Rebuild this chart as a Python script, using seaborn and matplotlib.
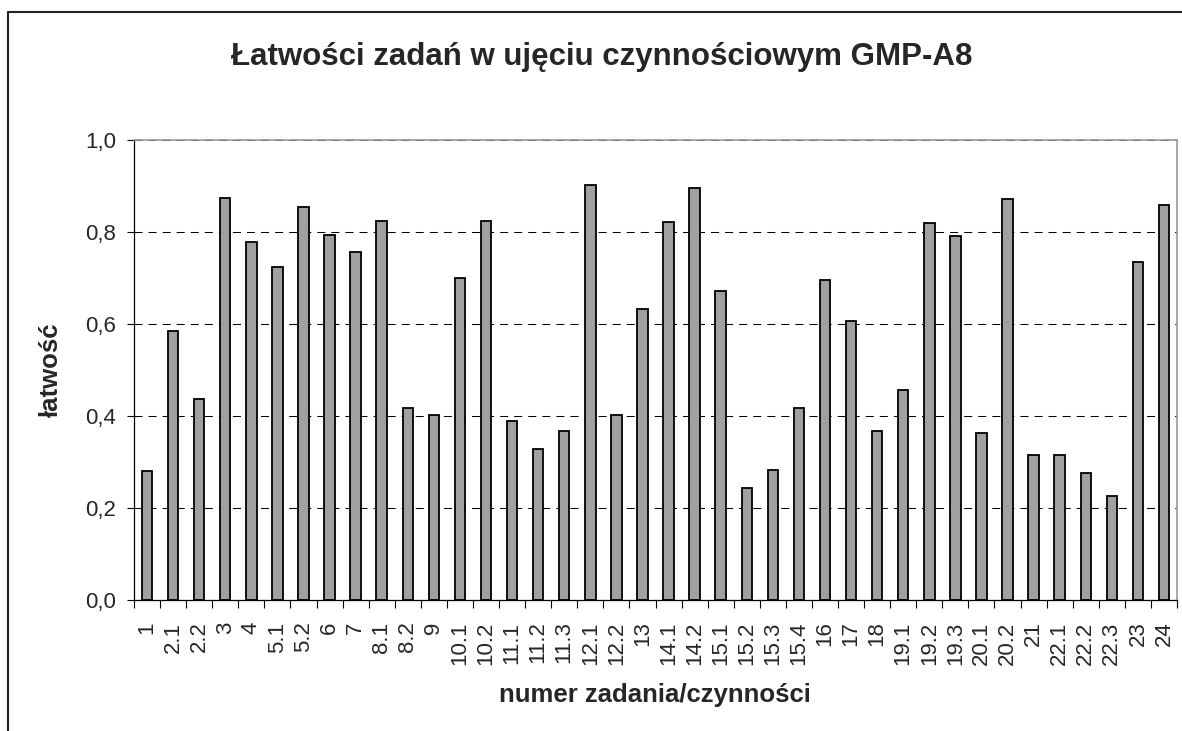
import matplotlib
matplotlib.use("Agg")
import matplotlib.pyplot as plt
from matplotlib.lines import Line2D
from matplotlib.ticker import FixedLocator
import seaborn as sns
import pandas as pd

# dane
zadania = ["1", "2.1", "2.2", "3", "4", "5.1", "5.2", "6", "7", "8.1",
           "8.2", "9", "10.1", "10.2", "11.1", "11.2", "11.3", "12.1", "12.2", "13",
           "14.1", "14.2", "15.1", "15.2", "15.3", "15.4", "16", "17", "18", "19.1",
           "19.2", "19.3", "20.1", "20.2", "21", "22.1", "22.2", "22.3", "23", "24"]
latwosc = [0.28, 0.585, 0.436, 0.875, 0.778, 0.723, 0.854, 0.794, 0.756, 0.825,
           0.418, 0.402, 0.701, 0.825, 0.389, 0.329, 0.368, 0.902, 0.402, 0.632,
           0.821, 0.896, 0.671, 0.244, 0.283, 0.418, 0.696, 0.606, 0.368, 0.456,
           0.820, 0.791, 0.363, 0.871, 0.315, 0.315, 0.277, 0.226, 0.734, 0.859]
y_ticks = [0.0, 0.2, 0.4, 0.6, 0.8, 1.0]
y_tick_labels = ["0,0", "0,2", "0,4", "0,6", "0,8", "1,0"]

sns.set_style("white")
plt.rcParams['font.family'] = ['Liberation Sans', 'DejaVu Sans']

df = pd.DataFrame({"zadanie": zadania, "latwosc": latwosc})

fig = plt.figure(figsize=(11.82, 7.31), dpi=100)
ax = fig.add_axes([134 / 1182, 1 - 600 / 731, (1177 - 134) / 1182, (600 - 140) / 731])

ax.yaxis.grid(True, color="black", linewidth=0.75, linestyle=(0, (7.7, 5.8)))
ax.set_axisbelow(True)

sns.barplot(data=df, x="zadanie", y="latwosc", color="#a0a0a0", saturation=1,
            width=0.4, edgecolor="black", linewidth=1.3, ax=ax)

ax.set_ylim(0, 1.0)
ax.set_xlim(-0.5, len(zadania) - 0.5)
ax.set_yticks(y_ticks)
ax.set_yticklabels(y_tick_labels, fontsize=16)
ax.set_xticks(range(len(zadania)))
ax.set_xticklabels(zadania, rotation=90, fontsize=16)

# kreski osi X na granicach kategorii
ax.xaxis.set_minor_locator(FixedLocator([i - 0.5 for i in range(len(zadania) + 1)]))
ax.tick_params(axis="x", which="major", length=0, pad=15.5)
ax.tick_params(axis="x", which="minor", bottom=True, length=5.5, width=0.8, color="black")
ax.tick_params(axis="y", which="major", left=True, length=5, width=0.8, color="black", pad=8)

ax.set_xlabel("")
ax.set_ylabel("")

for side in ["left", "bottom"]:
    ax.spines[side].set_color("black")
    ax.spines[side].set_linewidth(0.9)
for side in ["top", "right"]:
    ax.spines[side].set_color("#999999")
    ax.spines[side].set_linewidth(1.2)

fig.text(602 / 1182, 1 - 65 / 731, "Łatwości zadań w ujęciu czynnościowym GMP-A8",
         fontsize=22.5, fontweight="bold", ha="center", va="baseline")
fig.text(655 / 1182, 1 - 702 / 731, "numer zadania/czynności",
         fontsize=18.5, fontweight="bold", ha="center", va="baseline")
fig.text(51 / 1182, 1 - 370 / 731, "łatwość", rotation=90,
         fontsize=18.5, fontweight="bold", ha="center", va="center")

# ramka obszaru wykresu (widoczna tylko góra i lewa strona)
fig.add_artist(Line2D([8 / 1182, 1], [1 - 12 / 731, 1 - 12 / 731], color="#222222", linewidth=1.5))
fig.add_artist(Line2D([8 / 1182, 8 / 1182], [0, 1 - 12 / 731], color="#222222", linewidth=1.5))

fig.savefig("out.png", dpi=100)
